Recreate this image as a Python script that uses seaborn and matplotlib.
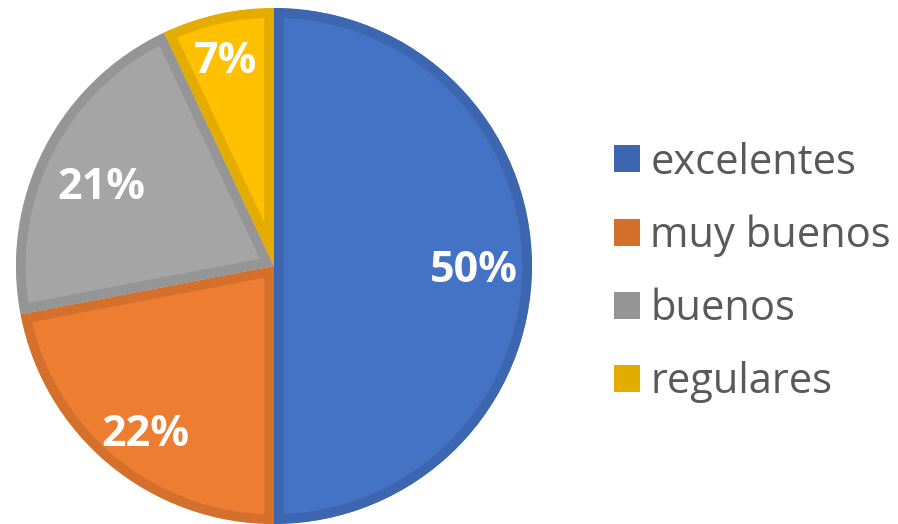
import matplotlib
matplotlib.use("Agg")
import matplotlib.pyplot as plt
import seaborn as sns
from matplotlib.patches import Patch
from matplotlib.transforms import offset_copy

categories = ["excelentes", "muy buenos", "buenos", "regulares"]
values = [50, 22, 21, 7]
pct_labels = ["50%", "22%", "21%", "7%"]
fill_colors = ["#4472C4", "#ED7D31", "#A5A5A5", "#FFC000"]
edge_colors = ["#3D66B0", "#D56F2C", "#959595", "#E5AC00"]
# small nudges (in pixels) of the percentage labels, Excel-style placement
label_nudges = [(-1, -5), (0, -13), (7, -13), (-5, 8)]

sns.set_theme(style="white")
plt.rcParams['font.family'] = ['Open Sans', 'DejaVu Sans']

W, H = 898, 524
fig = plt.figure(figsize=(W / 100, H / 100), dpi=100)
cx, cy, r = 274, 266, 258
ax = fig.add_axes([(cx - r) / W, (H - cy - r) / H, 2 * r / W, 2 * r / H])

wedges, texts, autotexts = ax.pie(
    values, colors=fill_colors, startangle=90, counterclock=False,
    autopct=lambda p: f"{p:.0f}%", pctdistance=0.78, radius=1,
    textprops=dict(color="white", fontsize=31, fontweight="bold"))
ax.set_xlim(-1, 1)
ax.set_ylim(-1, 1)
ax.set_aspect("equal")
ax.axis("off")
for w, ec in zip(wedges, edge_colors):
    w.set_edgecolor(ec)
    w.set_linewidth(14)
    w.set_clip_on(True)
    w.set_clip_path(w)
for t, lab, (dx, dy) in zip(autotexts, pct_labels, label_nudges):
    t.set_text(lab)
    t.set_transform(offset_copy(ax.transData, fig=fig, x=dx, y=dy, units="dots"))

handles = [Patch(facecolor=c, edgecolor="none") for c in edge_colors]
leg = fig.legend(handles, categories, loc="upper left",
                 bbox_to_anchor=(576 / W, 1 - 104 / H), frameon=False,
                 fontsize=30, handlelength=0.63, handleheight=0.63,
                 handletextpad=0.25, labelspacing=0.745, labelcolor="#595959")

fig.savefig("out.png", dpi=100)
